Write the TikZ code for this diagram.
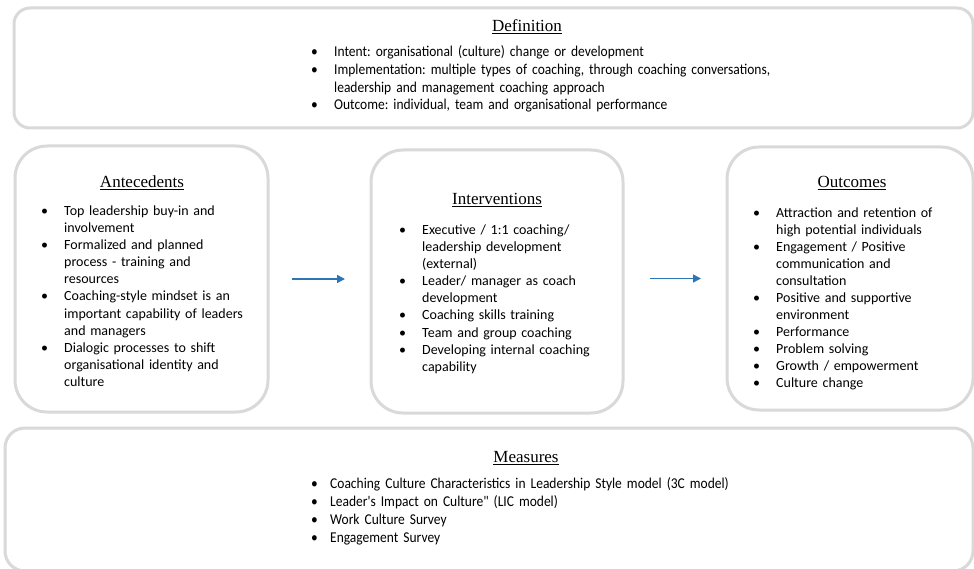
\documentclass[tikz,border=0pt]{standalone}
\usepackage{fontspec}
\setmainfont{Carlito}
\newfontfamily\headfont{Liberation Serif}
\newfontfamily\narrowfont{Carlito}[FakeStretch=0.9]
\usetikzlibrary{arrows.meta}
\definecolor{boxgray}{HTML}{D9D9D9}
\definecolor{arrblue}{HTML}{2E75B6}
\newlength\myind
\setlength\myind{23pt}
\newcommand\bul[1]{\par\noindent\hangindent=\myind\hangafter=1\makebox[\myind][l]{•}#1\par}
\tikzset{
  box/.style={draw=boxgray, line width=3pt, fill=white},
  head/.style={font=\headfont\fontsize{17}{20}\selectfont, inner sep=0pt},
  body/.style={font=\frenchspacing\fontsize{14}{17.05}\selectfont, inner sep=0pt, text width=240pt, align=left, anchor=north west},
  wide/.style={font=\frenchspacing\narrowfont\fontsize{15}{17.7}\selectfont, inner sep=0pt, text width=580pt, align=left, anchor=north west}
}
\tikzset{arr/.style={draw=arrblue, line width=1.5pt, -{Triangle[length=8pt,width=8pt]}}}
\begin{document}
\begin{tikzpicture}[x=1pt,y=-1pt]
\useasboundingbox (0,0) rectangle (974,569);
\clip (0,0) rectangle (974,569);
% boxes
\node[box, rounded corners=16pt, minimum width=959pt, minimum height=120pt] (def) at (493.5,68) {};
\node[box, rounded corners=32pt, minimum width=253pt, minimum height=266pt] (ante) at (141.5,279) {};
\node[box, rounded corners=32pt, minimum width=252pt, minimum height=263pt] (interv) at (497,281.5) {};
\node[box, rounded corners=32pt, minimum width=246pt, minimum height=263pt] (outc) at (850,278.5) {};
\node[box, rounded corners=20pt, minimum width=968pt, minimum height=143pt] (meas) at (489,499.5) {};
% headings
\node[head] (defh) at (527,27) {\underline{Definition}};
\node[head] (anteh) at (142,183) {\underline{Antecedents}};
\node[head] (intervh) at (497,200) {\underline{Interventions}};
\node[head] (outch) at (852,183) {\underline{Outcomes}};
\node[head] (meash) at (526,458) {\underline{Measures}};
% texts
\node[wide] (deft) at (311,39) {%
\bul{Intent: organisational (culture) change or development}
\bul{Implementation: multiple types of coaching, through coaching conversations,\newline leadership and management coaching approach}
\bul{Outcome: individual, team and organisational performance}};
\node[body] (antet) at (41,198.5) {%
\bul{Top leadership buy-in and\newline involvement}
\bul{Formalized and planned\newline process - training and\newline resources}
\bul{Coaching-style mindset is an\newline important capability of leaders\newline and managers}
\bul{Dialogic processes to shift\newline organisational identity and\newline culture}};
\node[body] (intervt) at (399,217.5) {%
\bul{Executive / 1:1 coaching/\newline leadership development\newline (external)}
\bul{Leader/ manager as coach\newline development}
\bul{Coaching skills training}
\bul{Team and group coaching}
\bul{Developing internal coaching\newline capability}};
\node[body] (outct) at (753,200) {%
\bul{Attraction and retention of\newline high potential individuals}
\bul{Engagement / Positive\newline communication and\newline consultation}
\bul{Positive and supportive\newline environment}
\bul{Performance}
\bul{Problem solving}
\bul{Growth / empowerment}
\bul{Culture change}};
\node[wide] (meast) at (311,471) {\setlength\myind{19pt}%
\bul{Coaching Culture Characteristics in Leadership Style model (3C model)}
\bul{Leader's Impact on Culture" (LIC model)}
\bul{Work Culture Survey}
\bul{Engagement Survey}};
% arrows
\draw[arr, shorten <=22.5pt, shorten >=24.5pt] (ante.east) -- (ante.east -| interv.west);
\draw[arr, shorten <=25.5pt, shorten >=24.5pt] (outc.west -| interv.east) -- (outc.west);
\end{tikzpicture}
\end{document}
